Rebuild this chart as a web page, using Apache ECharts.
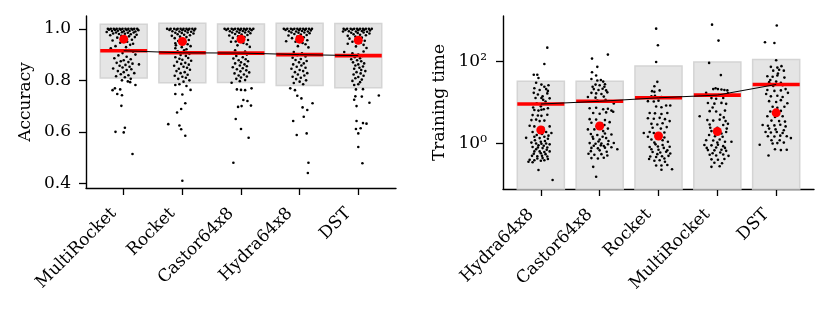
<!DOCTYPE html>
<html>
<head>
<meta charset="utf-8">
<script src="https://cdn.jsdelivr.net/npm/echarts@6/dist/echarts.min.js"></script>
<style>
html,body{margin:0;padding:0;background:#fff;}
#chart{width:830px;height:314px;}
</style>
</head>
<body>
<div id="chart"></div>
<script>
// ---------------- DATA ----------------
const accMethods = ['MultiRocket', 'Rocket', 'Castor64x8', 'Hydra64x8', 'DST'];
const timeMethods = ['Hydra64x8', 'Castor64x8', 'Rocket', 'MultiRocket', 'DST'];

const accTicks = [0.4, 0.6, 0.8, 1.0];
const timeTicks = [1, 100];
const timeTickLabels = ['10\u2070', '10\u00B2'];

// mean, median, mean-std, mean+std (accuracy)
const accMean = [0.915, 0.907, 0.906, 0.900, 0.896];
const accMedian = [0.960, 0.951, 0.960, 0.960, 0.956];
const accLow = [0.809, 0.791, 0.792, 0.780, 0.771];
const accHigh = [1.018, 1.022, 1.019, 1.022, 1.021];

// mean, median, mean+std (training time)
const timeMean = [9.1, 10.6, 12.9, 15.0, 27.2];
const timeMedian = [2.12, 2.66, 1.52, 1.95, 5.56];
const timeHigh = [32.7, 32.4, 77, 96, 110];

// per-dataset points: [jitter offset, value]
const accMultiRocket = [
 [-0.27,1.0],[-0.22,1.0],[-0.17,1.0],[-0.12,1.0],[-0.07,1.0],[-0.02,1.0],[0.03,1.0],[0.08,1.0],[0.13,1.0],[0.18,1.0],[0.23,1.0],
 [-0.25,0.997],[-0.15,0.996],[-0.05,0.997],[0.05,0.996],[0.15,0.997],[0.25,0.995],
 [-0.2,0.992],[-0.1,0.993],[0.0,0.991],[0.1,0.992],[0.2,0.99],
 [-0.29,0.988],[-0.13,0.986],[-0.03,0.987],[0.07,0.985],[0.17,0.986],
 [-0.18,0.982],[-0.08,0.98],[0.02,0.981],[0.12,0.979],[0.22,0.977],
 [-0.23,0.975],[-0.04,0.973],[0.09,0.971],[0.19,0.968],
 [-0.11,0.966],[0.01,0.962],[0.14,0.958],[-0.19,0.955],[0.06,0.95],[-0.06,0.946],[0.16,0.942],[0.11,0.938],[-0.14,0.933],[0.04,0.929],[-0.22,0.925],
 [0.09,0.918],[0.16,0.911],[-0.02,0.906],[0.2,0.9],[-0.09,0.897],[0.05,0.892],[-0.16,0.886],[0.12,0.882],[0.0,0.878],[-0.05,0.874],[0.08,0.871],[-0.12,0.868],[0.15,0.865],[0.26,0.862],[0.03,0.86],[-0.07,0.857],[0.1,0.853],[-0.02,0.85],[-0.18,0.846],[0.13,0.843],[0.05,0.84],[-0.1,0.836],[0.0,0.832],[0.18,0.828],[-0.05,0.824],[0.08,0.82],[-0.13,0.816],[0.02,0.812],[0.12,0.806],[-0.03,0.8],[0.07,0.796],[0.11,0.793],[0.2,0.782],
 [-0.15,0.769],[-0.06,0.765],[-0.19,0.762],[-0.11,0.747],[-0.03,0.742],[-0.04,0.701],[-0.14,0.6],[0.0,0.598],[0.02,0.616],[0.15,0.514]
];
const accRocket = [
 [-0.26,1.0],[-0.2,1.0],[-0.14,1.0],[-0.08,1.0],[-0.03,1.0],[0.02,1.0],[0.07,1.0],[0.12,1.0],[0.17,1.0],[0.22,1.0],
 [-0.22,0.996],[-0.1,0.997],[0.0,0.995],[0.1,0.996],[0.2,0.994],
 [-0.17,0.991],[-0.05,0.99],[0.05,0.992],[0.15,0.989],
 [-0.12,0.985],[-0.01,0.984],[0.09,0.986],[0.19,0.982],
 [-0.08,0.979],[0.03,0.977],[0.13,0.975],[-0.18,0.973],
 [-0.04,0.97],[0.07,0.968],[-0.13,0.964],[0.01,0.96],[0.11,0.957],[-0.07,0.953],[0.05,0.949],[-0.12,0.944],[0.09,0.94],[-0.11,0.936],[0.14,0.933],[-0.01,0.929],[-0.12,0.925],
 [0.07,0.921],[0.03,0.917],[-0.08,0.913],[0.12,0.903],[-0.03,0.899],[0.06,0.895],[-0.12,0.89],[0.1,0.887],[-0.05,0.884],[0.0,0.88],[0.15,0.876],[-0.09,0.872],[0.05,0.868],[-0.02,0.864],[0.11,0.861],[-0.14,0.857],[0.02,0.853],[0.08,0.849],[-0.06,0.845],[0.13,0.841],[-0.1,0.836],[0.04,0.832],[-0.03,0.828],[0.09,0.822],[-0.13,0.818],[0.0,0.814],[0.06,0.81],[-0.07,0.806],[0.12,0.8],[0.02,0.795],
 [-0.12,0.782],[-0.05,0.785],[0.07,0.778],[0.14,0.763],[-0.12,0.747],[0.0,0.745],[0.05,0.711],[-0.02,0.689],[-0.09,0.675],[-0.24,0.63],[-0.05,0.625],[-0.02,0.61],[0.05,0.585],[0.0,0.41]
];
const accCastor = [
 [-0.28,1.0],[-0.22,1.0],[-0.16,1.0],[-0.1,1.0],[-0.05,1.0],[0.0,1.0],[0.05,1.0],[0.1,1.0],[0.15,1.0],[0.21,1.0],
 [-0.25,0.996],[-0.13,0.997],[-0.02,0.995],[0.08,0.996],[0.18,0.995],
 [-0.19,0.991],[-0.07,0.99],[0.03,0.992],[0.13,0.99],
 [-0.15,0.986],[-0.03,0.985],[0.07,0.986],[0.16,0.983],
 [-0.1,0.98],[0.01,0.978],[0.11,0.976],[-0.2,0.974],
 [-0.05,0.971],[0.06,0.968],[-0.14,0.965],[0.02,0.961],[0.12,0.957],[-0.09,0.951],[-0.17,0.95],[0.04,0.945],[0.1,0.94],[-0.06,0.936],[0.15,0.93],
 [-0.1,0.917],[0.07,0.912],[-0.03,0.905],[0.1,0.9],[-0.08,0.895],[0.03,0.89],[-0.13,0.885],[0.08,0.882],[-0.04,0.878],[0.12,0.874],[0.0,0.87],[-0.1,0.866],[0.06,0.862],[-0.02,0.858],[0.1,0.855],[-0.14,0.851],[0.03,0.847],[-0.07,0.843],[0.09,0.839],[-0.01,0.835],[0.14,0.831],[-0.11,0.827],[0.05,0.823],[-0.04,0.819],[0.1,0.815],[0.0,0.811],[-0.08,0.806],[0.07,0.801],[-0.02,0.797],
 [-0.16,0.791],[0.18,0.769],[-0.07,0.765],[0.0,0.763],[0.07,0.762],[0.04,0.724],[0.11,0.72],[0.17,0.702],[0.01,0.7],[-0.05,0.697],[-0.09,0.65],[0.0,0.611],[0.13,0.577],[-0.13,0.48]
];
const accHydra = [
 [-0.27,1.0],[-0.21,1.0],[-0.15,1.0],[-0.09,1.0],[-0.04,1.0],[0.01,1.0],[0.06,1.0],[0.11,1.0],[0.16,1.0],[0.21,1.0],
 [-0.24,0.996],[-0.12,0.997],[-0.01,0.995],[0.09,0.996],[0.19,0.994],
 [-0.18,0.991],[-0.06,0.99],[0.04,0.992],[0.14,0.99],
 [-0.14,0.986],[-0.02,0.985],[0.08,0.986],[0.17,0.983],
 [-0.09,0.98],[0.02,0.978],[0.12,0.976],[-0.19,0.974],
 [-0.04,0.97],[0.07,0.967],[-0.13,0.964],[0.03,0.96],[0.13,0.956],[-0.23,0.952],[-0.07,0.95],[0.05,0.945],[0.1,0.94],[-0.03,0.933],[0.15,0.928],
 [-0.1,0.91],[0.04,0.905],[-0.04,0.898],[0.1,0.893],[-0.12,0.888],[0.02,0.883],[-0.07,0.879],[0.12,0.875],[-0.01,0.87],[0.07,0.866],[-0.11,0.862],[0.03,0.858],[-0.05,0.853],[0.1,0.849],[-0.14,0.845],[0.0,0.84],[0.06,0.836],[-0.08,0.832],[0.13,0.828],[-0.03,0.823],[0.08,0.819],[-0.12,0.814],[0.02,0.81],[-0.06,0.805],[0.11,0.8],[0.0,0.795],[-0.1,0.79],[0.06,0.785],
 [-0.16,0.769],[-0.08,0.762],[-0.04,0.74],[0.03,0.73],[0.22,0.711],[0.05,0.695],[0.13,0.685],[0.07,0.659],[-0.11,0.642],[0.12,0.594],[-0.05,0.588],[0.15,0.48],[0.14,0.44]
];
const accDST = [
 [-0.25,1.0],[-0.19,1.0],[-0.13,1.0],[-0.07,1.0],[-0.02,1.0],[0.03,1.0],[0.08,1.0],[0.13,1.0],[0.18,1.0],[0.23,1.0],
 [-0.22,0.996],[-0.1,0.997],[0.0,0.995],[0.1,0.996],[0.2,0.994],
 [-0.26,0.99],[-0.16,0.991],[-0.04,0.99],[0.06,0.992],[0.15,0.989],
 [-0.12,0.985],[-0.01,0.984],[0.09,0.986],[0.19,0.982],
 [-0.08,0.979],[0.03,0.977],[0.13,0.975],[-0.18,0.973],
 [-0.05,0.97],[0.06,0.966],[-0.15,0.962],[0.01,0.958],[0.11,0.954],[-0.1,0.95],[-0.18,0.942],[0.04,0.946],[0.09,0.938],[-0.04,0.932],[0.14,0.926],
 [-0.24,0.91],[0.09,0.912],[-0.1,0.905],[0.0,0.9],[0.07,0.895],[-0.06,0.89],[0.03,0.886],[-0.12,0.882],[-0.02,0.878],[0.05,0.874],[-0.09,0.87],[0.1,0.866],[0.0,0.862],[-0.05,0.858],[0.08,0.854],[0.02,0.849],[-0.07,0.845],[0.05,0.84],[0.12,0.836],[-0.03,0.832],[0.04,0.827],[-0.08,0.823],[0.09,0.818],[0.0,0.813],[-0.05,0.808],[0.06,0.803],[-0.1,0.798],[0.03,0.793],
 [-0.07,0.782],[0.0,0.785],[-0.04,0.765],[0.08,0.766],[0.35,0.741],[-0.05,0.738],[0.06,0.737],[0.19,0.713],[-0.07,0.725],[-0.03,0.70],[-0.03,0.642],[0.08,0.634],[0.14,0.632],[-0.04,0.611],[0.04,0.614],[0.0,0.594],[0.0,0.541],[0.07,0.478]
];

const timeHydra = [
 [0.11,214],[0.06,86],[-0.12,47],[-0.06,47],[-0.04,39],
 [-0.08,30],[0.01,27],[0.06,24],[0.13,26],
 [-0.11,22],[-0.02,20],[0.09,21],[0.12,19],
 [-0.12,17],[-0.05,15.5],[0.03,14],[0.11,16.5],
 [-0.09,12.8],[0.01,12.8],[0.15,12.5],
 [-0.07,9.5],[0.08,10.5],[0.0,8.0],[-0.13,7.5],[0.12,7.2],[0.04,11.5],
 [-0.11,6.5],[-0.04,6.3],[0.01,6.6],[0.05,6.8],
 [-0.14,4.9],[-0.05,4.8],[0.01,4.7],[0.11,5.0],
 [-0.16,3.7],[-0.08,3.8],[0.06,3.6],[-0.02,3.5],
 [-0.19,2.7],[-0.11,2.6],[0.15,2.6],[-0.03,2.3],[0.04,2.4],
 [-0.14,1.9],[0.09,1.9],[0.18,1.8],[-0.07,1.6],[0.02,1.7],[0.13,1.55],
 [-0.25,1.37],[-0.11,1.45],[-0.02,1.35],[0.06,1.45],[0.12,1.3],[-0.1,1.2],[0.07,1.15],[0.0,1.1],
 [-0.16,1.05],[-0.08,1.0],[0.01,0.98],[0.09,1.0],[0.15,0.95],[-0.04,0.9],[0.05,0.88],
 [-0.14,0.82],[-0.05,0.8],[0.03,0.77],[0.11,0.8],[0.1,0.7],[-0.08,0.72],
 [-0.11,0.64],[-0.02,0.64],[0.06,0.62],[0.15,0.64],[0.0,0.58],[-0.12,0.56],[0.08,0.55],
 [-0.15,0.5],[-0.06,0.49],[0.02,0.5],[0.11,0.48],[0.03,0.44],[-0.06,0.43],[0.12,0.42],
 [-0.19,0.40],[-0.11,0.39],[0.0,0.38],[0.06,0.39],[-0.21,0.36],[-0.14,0.35],
 [-0.04,0.226],[0.2,0.129]
];
const timeCastor = [
 [0.14,145],[-0.13,116],[-0.04,73],[-0.13,54],[-0.06,45],[-0.14,37],
 [-0.04,34],[0.02,35],[0.06,32],
 [-0.07,27],[0.0,26],[0.09,27.5],[-0.12,24],[0.08,24],
 [-0.1,21],[-0.02,20],[0.05,21.5],[0.11,19.5],
 [-0.14,17],[-0.06,16.5],[0.03,16],[0.13,17.5],
 [-0.2,13.5],[-0.07,13],[0.07,13.8],[-0.04,11],[0.1,11.5],
 [0.24,9.4],
 [-0.17,7.2],[-0.06,7.4],[0.06,6.8],[0.14,7.0],[0.2,6.3],
 [-0.11,5.5],[0.0,5.3],[0.11,5.7],[0.23,5.9],
 [-0.17,3.9],[-0.06,3.8],[0.09,3.7],
 [-0.14,3.2],[0.03,3.1],[0.17,3.3],[-0.05,2.6],[0.08,2.8],
 [-0.2,2.2],[-0.09,2.2],[0.06,2.0],[0.14,2.3],
 [-0.15,1.7],[-0.04,1.6],[0.09,1.75],[0.2,1.65],[-0.12,1.45],[0.05,1.45],
 [-0.11,1.3],[0.0,1.25],[0.11,1.35],[0.15,1.15],[-0.02,1.12],
 [-0.17,1.02],[-0.07,0.98],[0.03,1.0],[0.14,0.96],[0.24,1.03],[-0.1,0.88],[0.07,0.87],[0.02,0.9],
 [-0.14,0.78],[-0.03,0.76],[0.09,0.79],[0.2,0.81],
 [0.3,0.72],[0.0,0.68],[-0.15,0.65],[0.12,0.63],
 [-0.19,0.56],[-0.09,0.53],[0.03,0.55],[0.13,0.51],
 [-0.14,0.44],[-0.03,0.43],[0.07,0.45],
 [-0.11,0.27],[-0.06,0.155]
];
const timeRocket = [
 [-0.04,620],[-0.01,244],[-0.04,96],[-0.02,31.5],[-0.07,24.6],
 [-0.11,18.7],[-0.07,18],[0.02,19.5],
 [-0.12,14],[-0.06,14.5],[0.05,13.5],
 [0.13,8.4],[0.2,8.4],
 [-0.18,10.7],[-0.08,10.5],[0.0,11],
 [-0.04,7.9],[0.05,7.6],
 [-0.15,5.5],[-0.06,5.4],[0.05,5.2],[0.15,5.5],
 [-0.18,4.1],[-0.08,4.0],[0.02,4.2],[0.11,3.9],[0.19,3.5],
 [-0.12,3.0],[-0.02,2.9],[0.07,3.1],[0.04,2.3],[-0.1,2.4],[0.14,2.5],
 [-0.25,1.8],[-0.15,1.9],[-0.08,1.8],[0.1,1.85],[-0.02,1.5],[0.1,1.4],[-0.18,1.45],
 [-0.12,1.25],[0.07,1.2],[-0.07,1.05],[0.16,1.1],[-0.05,0.95],[0.07,0.92],
 [-0.15,0.82],[-0.01,0.84],[0.09,0.78],[0.19,0.83],[0.0,0.7],[-0.12,0.72],[0.15,0.68],
 [-0.1,0.62],[0.03,0.6],[0.13,0.63],[-0.02,0.55],[0.2,0.57],
 [-0.14,0.48],[-0.04,0.47],[0.06,0.49],[0.17,0.5],[0.1,0.43],[-0.16,0.42],
 [-0.07,0.38],[0.02,0.39],[0.11,0.36],
 [-0.04,0.29],[0.05,0.29],[0.15,0.3],
 [0.05,0.23],[0.23,0.235]
];
const timeMultiRocket = [
 [-0.09,776],[0.02,318],[-0.14,91],[0.06,46],
 [-0.07,21],[-0.03,22],[0.01,21],[0.07,20.5],[0.12,20],[0.17,19.5],
 [-0.19,17],[0.18,16.5],[0.02,15],
 [-0.1,12.7],[-0.02,12.2],[0.1,12.8],
 [-0.16,9.6],[-0.05,9.3],[0.07,9.7],[0.15,9.2],[-0.08,7.5],
 [-0.3,4.6],[0.05,5],[0.11,4.3],
 [-0.13,6.1],[-0.02,6.0],[0.13,6.3],
 [-0.17,3.7],[-0.07,3.6],[0.04,3.8],[0.14,3.5],
 [-0.13,2.9],[0.1,2.8],[0.18,3.0],[0.0,2.4],[-0.12,2.4],[0.16,2.3],
 [-0.1,2.0],[0.07,1.75],[0.15,1.9],[-0.04,1.5],[0.09,1.45],[-0.14,1.6],
 [-0.19,1.2],[-0.07,1.18],[0.04,1.25],[0.13,1.1],[0.0,1.05],
 [0.24,1.1],
 [-0.22,0.92],[-0.1,0.9],[0.01,0.93],[0.1,0.86],[-0.02,0.8],[0.13,0.78],[-0.18,0.78],
 [-0.16,0.69],[-0.05,0.68],[0.07,0.7],[0.15,0.66],[0.05,0.6],[-0.08,0.58],
 [-0.13,0.53],[-0.02,0.51],[0.1,0.54],[0.19,0.5],
 [-0.1,0.41],[0.01,0.4],[0.12,0.42],[-0.05,0.34],[0.08,0.33],
 [-0.1,0.27],[0.04,0.28]
];
const timeDST = [
 [0.01,740],[-0.19,290],[-0.03,278],[0.0,106],
 [-0.09,73],[0.02,70],[0.09,76],
 [-0.05,59],[0.05,62],[0.13,59],[0.03,50],
 [-0.15,43],[-0.06,42],[0.02,45],[0.14,40],[-0.1,35],
 [-0.12,31],[0.0,32],[0.08,30],[-0.05,25],[0.11,26],
 [-0.15,20],[-0.03,19],[0.08,19.5],[0.16,21],[-0.17,16],[0.2,17],
 [-0.09,14],[0.02,14.5],[0.11,13.5],
 [-0.12,10.7],[0.0,10.2],[0.08,11.3],[0.19,9.5],
 [-0.06,7.8],[0.02,7.4],[0.14,7.8],[-0.1,6],[0.08,6.2],[0.0,5.2],
 [-0.15,4.6],[-0.02,4.4],[0.11,4.6],[0.05,3.5],[-0.08,3.6],[0.15,3.4],
 [-0.23,2.8],[-0.14,2.7],[-0.03,2.75],[0.07,2.85],[0.16,2.6],[-0.01,2.2],[-0.12,2.3],[0.13,2.1],
 [-0.18,1.9],[-0.09,1.85],[0.01,1.9],[0.11,1.8],
 [-0.14,1.5],[-0.03,1.48],[0.07,1.55],[0.18,1.5],[0.25,1.35],[0.06,1.2],[-0.08,1.2],
 [-0.28,0.93],
 [-0.06,1.0],[0.02,1.02],[0.13,1.05],
 [-0.02,0.72],[0.08,0.69],[0.18,0.7],
 [-0.13,0.51]
];

const accGroups = [accMultiRocket, accRocket, accCastor, accHydra, accDST];
const timeGroups = [timeHydra, timeCastor, timeRocket, timeMultiRocket, timeDST];

// ---------------- CHART ----------------
const FONT = 'DejaVu Serif';
const HALF = 0.4;

function points(groups) {
  const out = [];
  groups.forEach((g, i) => g.forEach(p => out.push([i + p[0], p[1]])));
  return out;
}
function idx(arr) { return arr.map((v, i) => [i, v]); }

function boxSeries(gi, data, toBottom) {
  return {
    type: 'custom', xAxisIndex: gi, yAxisIndex: gi, z: 1, silent: true,
    data: data,
    renderItem(params, api) {
      const i = api.value(0);
      const hi = toBottom ? api.value(1) : api.value(2);
      const p1 = api.coord([i - HALF, hi]);
      let x2, y2;
      if (toBottom) {
        const p = api.coord([i + HALF, hi]);
        x2 = p[0];
        y2 = params.coordSys.y + params.coordSys.height;
      } else {
        const p2 = api.coord([i + HALF, api.value(1)]);
        x2 = p2[0]; y2 = p2[1];
      }
      return {
        type: 'rect',
        shape: { x: p1[0], y: p1[1], width: x2 - p1[0], height: y2 - p1[1] },
        style: { fill: '#e5e5e5', stroke: '#d4d4d4', lineWidth: 1.5 }
      };
    }
  };
}
function meanBarSeries(gi, means) {
  return {
    type: 'custom', xAxisIndex: gi, yAxisIndex: gi, z: 4, silent: true,
    data: idx(means),
    renderItem(params, api) {
      const i = api.value(0), m = api.value(1);
      const a = api.coord([i - HALF, m]), b = api.coord([i + HALF, m]);
      return { type: 'line', shape: { x1: a[0], y1: a[1], x2: b[0], y2: b[1] },
               style: { stroke: '#ff0000', lineWidth: 3.6 } };
    }
  };
}

const labelCommon = {
  color: '#000', fontFamily: FONT, fontSize: 17
};

function xAxis(gi, names) {
  return {
    type: 'value', gridIndex: gi, min: -0.643, max: 4.643,
    axisLine: { show: true, onZero: false, lineStyle: { color: '#000', width: 1.4 } },
    axisTick: { show: true, length: 7, customValues: [0, 1, 2, 3, 4], lineStyle: { color: '#000', width: 1.3 } },
    axisLabel: Object.assign({}, labelCommon, {
      customValues: [0, 1, 2, 3, 4], rotate: 45, margin: 13, padding: [0, 14, 0, 0],
      formatter: v => names[Math.round(v)]
    }),
    splitLine: { show: false }
  };
}

const option = {
  animation: false,
  backgroundColor: '#fff',
  grid: [
    { left: 86, top: 16, width: 310, height: 172 },
    { left: 503, top: 16, width: 311, height: 173 }
  ],
  xAxis: [xAxis(0, accMethods), xAxis(1, timeMethods)],
  yAxis: [
    {
      type: 'value', gridIndex: 0, min: 0.382, max: 1.05,
      name: 'Accuracy', nameLocation: 'middle', nameGap: 52,
      nameTextStyle: labelCommon,
      axisLine: { show: true, onZero: false, lineStyle: { color: '#000', width: 1.4 } },
      axisTick: { show: true, length: 7, customValues: accTicks, lineStyle: { color: '#000', width: 1.3 } },
      axisLabel: Object.assign({}, labelCommon, { customValues: accTicks, margin: 15, formatter: v => v.toFixed(1) }),
      splitLine: { show: false }
    },
    {
      type: 'log', logBase: 10, gridIndex: 1, min: 0.078, max: 1260,
      name: 'Training time', nameLocation: 'middle', nameGap: 55,
      nameTextStyle: labelCommon,
      axisLine: { show: true, onZero: false, lineStyle: { color: '#000', width: 1.4 } },
      axisTick: { show: true, length: 7, customValues: timeTicks, lineStyle: { color: '#000', width: 1.3 } },
      axisLabel: Object.assign({}, labelCommon, {
        customValues: timeTicks, margin: 16,
        formatter: v => { const k = timeTicks.findIndex(t => Math.abs(t - v) / t < 1e-6); return k >= 0 ? timeTickLabels[k] : ''; }
      }),
      splitLine: { show: false }, minorTick: { show: false }
    }
  ],
  series: [
    boxSeries(0, accMean.map((m, i) => [i, accLow[i], accHigh[i]]), false),
    boxSeries(1, idx(timeHigh), true),
    { type: 'scatter', xAxisIndex: 0, yAxisIndex: 0, z: 3, silent: true, symbolSize: 2.6,
      itemStyle: { color: '#000', opacity: 1 }, data: points(accGroups) },
    { type: 'scatter', xAxisIndex: 1, yAxisIndex: 1, z: 3, silent: true, symbolSize: 2.6,
      itemStyle: { color: '#000', opacity: 1 }, data: points(timeGroups) },
    meanBarSeries(0, accMean),
    meanBarSeries(1, timeMean),
    { type: 'line', xAxisIndex: 0, yAxisIndex: 0, z: 5, silent: true, symbol: 'none',
      lineStyle: { color: '#000', width: 1 }, data: idx(accMean) },
    { type: 'line', xAxisIndex: 1, yAxisIndex: 1, z: 5, silent: true, symbol: 'none',
      lineStyle: { color: '#000', width: 1 }, data: idx(timeMean) },
    { type: 'scatter', xAxisIndex: 0, yAxisIndex: 0, z: 6, silent: true, symbolSize: 9,
      itemStyle: { color: '#ff0000', opacity: 1 }, data: idx(accMedian) },
    { type: 'scatter', xAxisIndex: 1, yAxisIndex: 1, z: 6, silent: true, symbolSize: 9,
      itemStyle: { color: '#ff0000', opacity: 1 }, data: idx(timeMedian) }
  ]
};

const chart = echarts.init(document.getElementById('chart'), null, { renderer: 'canvas' });
chart.setOption(option);
</script>
</body>
</html>
